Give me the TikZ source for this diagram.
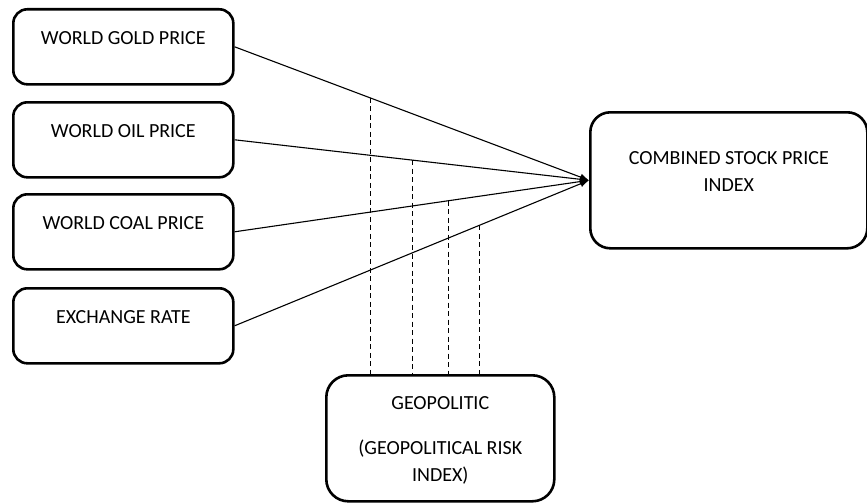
\documentclass[tikz,border=0pt]{standalone}
\usepackage{fontspec}
\setmainfont{Carlito}
\usetikzlibrary{arrows.meta}

\begin{document}
\begin{tikzpicture}[x=1pt,y=-1pt,
  box/.style={draw,line width=2.6pt,rounded corners=14pt,inner xsep=0pt,inner ysep=0pt,
    align=center,text height=35pt,text depth=40pt,minimum width=220pt},
  link/.style={line width=1.1pt,-{Latex[length=9pt,width=7pt]}},
  guide/.style={line width=0.9pt,dash pattern=on 5pt off 3.5pt}]
  \useasboundingbox (0,0) rectangle (867,503);
  \fontsize{20}{27}\selectfont
  % inputs on the left
  \node[box,anchor=north west] (gold) at (12,8) {WORLD GOLD PRICE};
  \node[box,anchor=north west] (oil) at (12,101) {WORLD OIL PRICE};
  \node[box,anchor=north west] (coal) at (12,193) {WORLD COAL PRICE};
  \node[box,anchor=north west] (rate) at (12,287) {EXCHANGE RATE};
  % output and moderator
  \node[box,anchor=north west,minimum width=277pt,text height=79pt,text depth=57pt,
    rounded corners=20pt] (index) at (589,111) {COMBINED STOCK PRICE\\INDEX};
  \node[box,anchor=north west,minimum width=228pt,text height=106pt,text depth=20pt,
    rounded corners=22pt] (geo) at (325,374) {GEOPOLITIC\\[18pt](GEOPOLITICAL RISK\\INDEX)};
  \draw[link] (gold.east) -- coordinate[pos=0.382] (g1) (index.west);
  \draw[link] (oil.east) -- coordinate[pos=0.503] (g2) (index.west);
  \draw[link] (coal.east) -- coordinate[pos=0.604] (g3) (index.west);
  \draw[link] (rate.east) -- coordinate[pos=0.691] (g4) (index.west);
  % dashed links from the moderator
  \foreach \p in {g1,g2,g3,g4}
    \draw[guide] (\p) -- (\p |- geo.north);
\end{tikzpicture}
\end{document}
